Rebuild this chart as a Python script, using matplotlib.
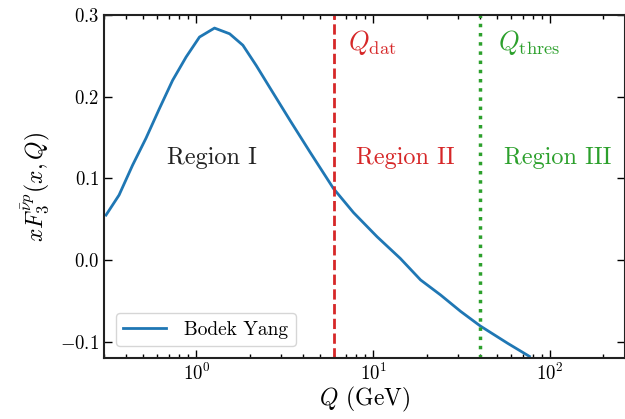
import matplotlib
matplotlib.use("Agg")
import matplotlib.pyplot as plt
import numpy as np

plt.rcParams["font.family"] = ["cmr10"]
plt.rcParams["mathtext.fontset"] = "cm"
plt.rcParams["axes.formatter.use_mathtext"] = True

# Bodek-Yang xF3 curve
Q_vals = [0.308, 0.365, 0.435, 0.518, 0.616, 0.733, 0.874, 1.04, 1.265,
          1.54, 1.83, 2.18, 2.60, 3.38, 4.39, 5.95, 7.73, 10.5, 14.2, 18.5,
          24.0, 31.2, 40.2, 57.5, 76.3]
xF3 = [0.055, 0.0795, 0.116, 0.149, 0.185, 0.220, 0.2486, 0.273, 0.284,
       0.277, 0.263, 0.238, 0.211, 0.171, 0.132, 0.0876, 0.058, 0.0285, 0.002,
       -0.0244, -0.0428, -0.063, -0.0807, -0.102, -0.118]

Q_dat = 6.0
Q_thres = 40.0

fig = plt.figure(figsize=(6.25, 4.19), dpi=100)
ax = fig.add_axes([0.1664, 0.1456, 0.8336, 0.8186])

ax.plot(Q_vals, xF3, color="#1f77b4", linewidth=2, label="Bodek Yang")
ax.axvline(Q_dat, color="#d62728", linestyle="--", linewidth=2)
ax.axvline(Q_thres, color="#2ca02c", linestyle=":", linewidth=2.5)

ax.text(7.2, 0.266, r"$Q_{\rm dat}$", color="#d62728", fontsize=19, ha="left", va="center")
ax.text(50.7, 0.266, r"$Q_{\rm thres}$", color="#2ca02c", fontsize=19, ha="left", va="center")
ax.text(1.23, 0.125, "Region I", fontsize=17.5, ha="center", va="center", color="#222222")
ax.text(15.2, 0.125, "Region II", fontsize=17.5, ha="center", va="center", color="#d62728")
ax.text(111, 0.125, "Region III", fontsize=17.5, ha="center", va="center", color="#2ca02c")

ax.set_xscale("log")
ax.set_xlim(0.3, 265)
ax.set_ylim(-0.12, 0.3)
ax.set_yticks([-0.1, 0.0, 0.1, 0.2, 0.3])
ax.set_xlabel(r"$Q$ (GeV)", fontsize=17, labelpad=1)
ax.set_ylabel(r"$xF_3^{\bar{\nu}p}(x,Q)$", fontsize=17, labelpad=6)

ax.tick_params(which="both", direction="in", top=True, right=True, labelsize=13.5)
ax.tick_params(which="major", length=6, width=1)
ax.tick_params(which="minor", length=3, width=1)
for sp in ax.spines.values():
    sp.set_linewidth(1.5)
    sp.set_color("#222222")

ax.legend(loc="lower left", fontsize=14, handlelength=2.2, handletextpad=0.9,
          framealpha=0.8, borderaxespad=0.6)

fig.savefig("out.png", dpi=100)
